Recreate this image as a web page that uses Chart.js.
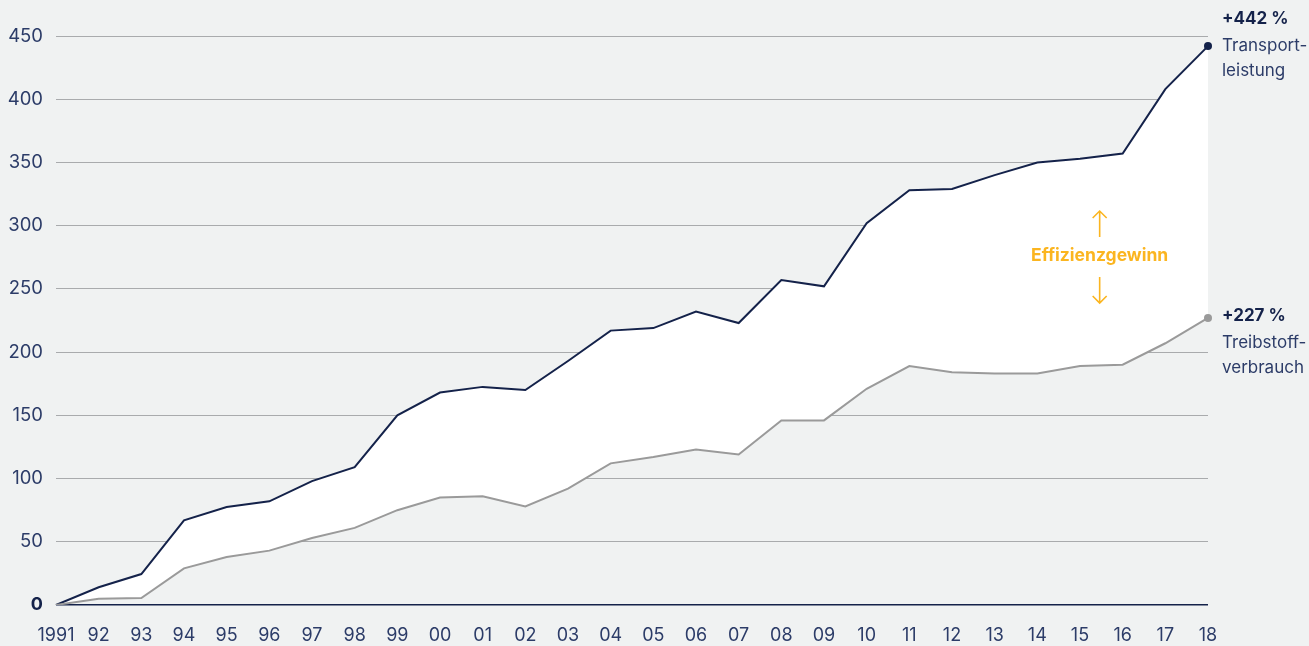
<!DOCTYPE html>
<html>
<head>
<meta charset="utf-8">
<script src="https://cdn.jsdelivr.net/npm/chart.js@4"></script>
<style>
  html, body { margin: 0; padding: 0; background: #f0f2f2; }
  #wrap { width: 1309px; height: 646px; position: relative; }
</style>
</head>
<body>
<div id="wrap"><canvas id="chart" width="1309" height="646"></canvas></div>
<script>
const years = ['1991', '92', '93', '94', '95', '96', '97', '98', '99', '00', '01', '02', '03', '04',
  '05', '06', '07', '08', '09', '10', '11', '12', '13', '14', '15', '16', '17', '18'];
const transport = [0, 14, 24.5, 67, 77.5, 82, 98, 109, 150, 168, 172.5, 170, 193, 217,
  219, 232, 223, 257, 252, 302, 328, 329, 340, 350, 353, 357, 408, 442];
const fuel = [0, 5, 5.5, 29, 38, 43, 53, 61, 75, 85, 86, 78, 92, 112,
  117, 123, 119, 146, 146, 171, 189, 184, 183, 183, 189, 190, 207, 227];
const yTicks = [0, 50, 100, 150, 200, 250, 300, 350, 400, 450];
const endLabels = [
  { pct: '+442 %', lines: ['Transport-', 'leistung'], shift: -27 },
  { pct: '+227 %', lines: ['Treibstoff-', 'verbrauch'], shift: -2 }
];
const gainLabel = 'Effizienzgewinn';

const navy = '#14224a';
const textNavy = '#2c3c68';
const grey = '#9a9a9a';
const orange = '#fbb520';

// only the last point gets a dot
const lastDot = arr => arr.map((v, i) => i === arr.length - 1 ? 4 : 0);

const annotations = {
  id: 'annotations',
  afterDatasetsDraw(chart) {
    const ctx = chart.ctx;
    const x = chart.scales.x;
    const y = chart.scales.y;
    const last = years.length - 1;
    const tx = x.getPixelForValue(last) + 14;
    ctx.save();
    ctx.textAlign = 'left';
    ctx.textBaseline = 'middle';
    [transport, fuel].forEach((series, k) => {
      const py = y.getPixelForValue(series[last]) + endLabels[k].shift;
      ctx.fillStyle = navy;
      ctx.font = 'bold 17px Inter';
      ctx.fillText(endLabels[k].pct, tx, py);
      ctx.fillStyle = textNavy;
      ctx.font = '17px Inter';
      endLabels[k].lines.forEach((t, j) => ctx.fillText(t, tx, py + 27 + j * 25));
    });

    // efficiency gain label between the lines
    const cx = x.getPixelForValue(25) - 23;
    const cy = y.getPixelForValue(276);
    ctx.fillStyle = orange;
    ctx.textAlign = 'center';
    ctx.font = 'bold 17.5px Inter';
    ctx.fillText(gainLabel, cx, cy);
    ctx.strokeStyle = orange;
    ctx.lineWidth = 1.6;
    ctx.beginPath();
    // up arrow
    ctx.moveTo(cx, cy - 19); ctx.lineTo(cx, cy - 45);
    ctx.moveTo(cx - 7, cy - 38); ctx.lineTo(cx, cy - 45); ctx.lineTo(cx + 7, cy - 38);
    // down arrow
    ctx.moveTo(cx, cy + 21); ctx.lineTo(cx, cy + 47);
    ctx.moveTo(cx - 7, cy + 40); ctx.lineTo(cx, cy + 47); ctx.lineTo(cx + 7, cy + 40);
    ctx.stroke();
    ctx.restore();
  }
};

new Chart(document.getElementById('chart'), {
  type: 'line',
  data: {
    labels: years,
    datasets: [
      {
        label: 'Transportleistung',
        data: transport,
        borderColor: navy,
        borderWidth: 2,
        backgroundColor: '#ffffff',
        fill: '+1',
        tension: 0,
        pointRadius: lastDot(transport),
        pointBackgroundColor: navy,
        pointBorderWidth: 0,
        order: 2
      },
      {
        label: 'Treibstoffverbrauch',
        data: fuel,
        borderColor: grey,
        borderWidth: 2,
        fill: false,
        tension: 0,
        pointRadius: lastDot(fuel),
        pointBackgroundColor: grey,
        pointBorderWidth: 0,
        order: 1
      }
    ]
  },
  options: {
    responsive: false,
    animation: false,
    layout: { padding: { top: 36, right: 101, bottom: 0, left: 0 } },
    plugins: {
      legend: { display: false },
      tooltip: { enabled: false }
    },
    scales: {
      x: {
        offset: false,
        grid: { display: false, drawTicks: false },
        border: { display: false },
        ticks: {
          color: textNavy,
          font: { family: 'Inter', size: 18 },
          padding: 20,
          maxRotation: 0,
          autoSkip: false
        },
        afterFit(scale) { scale.height = 41; }
      },
      y: {
        min: 0,
        max: 450,
        afterBuildTicks(scale) { scale.ticks = yTicks.map(v => ({ value: v })); },
        grid: {
          drawTicks: false,
          color: ctx => ctx.tick && ctx.tick.value === 0 ? navy : '#a9abad',
          lineWidth: ctx => ctx.tick && ctx.tick.value === 0 ? 1.5 : 1
        },
        border: { display: false },
        ticks: {
          color: ctx => ctx.tick.value === 0 ? navy : textNavy,
          font: ctx => ctx.tick && ctx.tick.value === 0
            ? { family: 'Inter', size: 18, weight: 'bold' }
            : { family: 'Inter', size: 18.5 },
          padding: 13
        },
        afterFit(scale) { scale.width = 56; }
      }
    }
  },
  plugins: [annotations]
});
</script>
</body>
</html>
